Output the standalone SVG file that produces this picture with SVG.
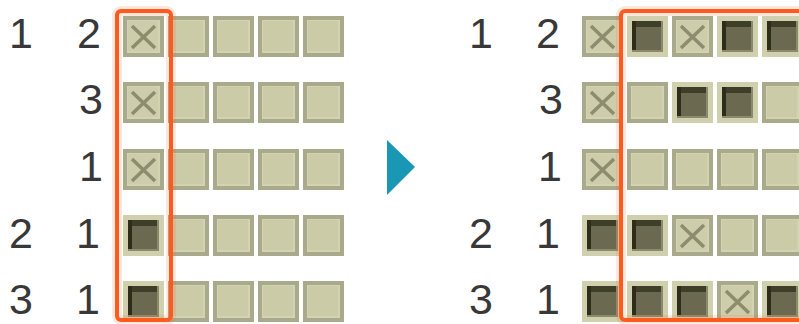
<svg xmlns="http://www.w3.org/2000/svg" xmlns:xlink="http://www.w3.org/1999/xlink" width="799" height="324" viewBox="0 0 799 324">
<style>
.num{font-family:"Liberation Sans","Helvetica",Arial,sans-serif;font-size:43px;fill:#383838;text-anchor:middle}
.frame{fill:none;stroke:#ff5a1e;stroke-width:4}
.glow{fill:none;stroke:#ff5a1e;stroke-opacity:0.14;stroke-width:10}
</style>
<defs>
<g id="E">
<rect width="41" height="41" fill="#a9a98c"/>
<rect x="4" y="4" width="33" height="33" fill="#d3d3b3"/>
<rect x="5" y="5" width="30" height="30" fill="#cbcba8"/>
</g>
<g id="X">
<rect width="41" height="41" fill="#a9a98c"/>
<rect x="4" y="4" width="33" height="33" fill="#d3d3b3"/>
<rect x="5" y="5" width="30" height="30" fill="#cdcdab"/>
<path d="M9 10 L32 32 M32 10 L9 32" stroke="#8d8c6d" stroke-width="3.5" fill="none"/>
</g>
<g id="F">
<rect width="41" height="41" fill="#d0d0ae"/>
<rect x="5" y="5" width="31" height="31" fill="#8a8a6c"/>
<rect x="5" y="5" width="29" height="29" fill="#6b6a50"/>
<rect x="5" y="5" width="29" height="6" fill="#3f3e29"/>
<rect x="5" y="5" width="4" height="29" fill="#2e2d19"/>
</g>
</defs>

<g id="left-clues">
<text class="num" x="21" y="48">1</text>
<text class="num" x="89" y="48">2</text>
<text class="num" x="91" y="114">3</text>
<text class="num" x="91" y="181">1</text>
<text class="num" x="21" y="248">2</text>
<text class="num" x="88" y="248">1</text>
<text class="num" x="21" y="314">3</text>
<text class="num" x="88" y="314">1</text>
</g>

<g id="left-grid">
<use xlink:href="#X" x="123" y="16"/><use xlink:href="#E" x="168" y="16"/><use xlink:href="#E" x="213" y="16"/><use xlink:href="#E" x="258" y="16"/><use xlink:href="#E" x="303" y="16"/>
<use xlink:href="#X" x="123" y="82"/><use xlink:href="#E" x="168" y="82"/><use xlink:href="#E" x="213" y="82"/><use xlink:href="#E" x="258" y="82"/><use xlink:href="#E" x="303" y="82"/>
<use xlink:href="#X" x="123" y="149"/><use xlink:href="#E" x="168" y="149"/><use xlink:href="#E" x="213" y="149"/><use xlink:href="#E" x="258" y="149"/><use xlink:href="#E" x="303" y="149"/>
<use xlink:href="#F" x="123" y="215"/><use xlink:href="#E" x="168" y="215"/><use xlink:href="#E" x="213" y="215"/><use xlink:href="#E" x="258" y="215"/><use xlink:href="#E" x="303" y="215"/>
<use xlink:href="#F" x="123" y="281"/><use xlink:href="#E" x="168" y="281"/><use xlink:href="#E" x="213" y="281"/><use xlink:href="#E" x="258" y="281"/><use xlink:href="#E" x="303" y="281"/>
</g>

<g id="left-frame">
<rect class="glow" x="117" y="11" width="54" height="309" rx="4"/>
<rect class="frame" x="117" y="11" width="54" height="309" rx="4"/>
</g>

<g id="arrow">
<polygon points="387,140 415,167 387,195" fill="#1b97b6"/>
</g>

<g id="right-clues">
<text class="num" x="481" y="48">1</text>
<text class="num" x="548" y="48">2</text>
<text class="num" x="551" y="114">3</text>
<text class="num" x="550" y="181">1</text>
<text class="num" x="481" y="248">2</text>
<text class="num" x="548" y="248">1</text>
<text class="num" x="481" y="314">3</text>
<text class="num" x="548" y="314">1</text>
</g>

<g id="right-grid">
<use xlink:href="#X" x="582" y="16"/><use xlink:href="#F" x="627" y="16"/><use xlink:href="#X" x="672" y="16"/><use xlink:href="#F" x="717" y="16"/><use xlink:href="#F" x="762" y="16"/>
<use xlink:href="#X" x="582" y="82"/><use xlink:href="#E" x="627" y="82"/><use xlink:href="#F" x="672" y="82"/><use xlink:href="#F" x="717" y="82"/><use xlink:href="#E" x="762" y="82"/>
<use xlink:href="#X" x="582" y="149"/><use xlink:href="#E" x="627" y="149"/><use xlink:href="#E" x="672" y="149"/><use xlink:href="#E" x="717" y="149"/><use xlink:href="#E" x="762" y="149"/>
<use xlink:href="#F" x="582" y="215"/><use xlink:href="#F" x="627" y="215"/><use xlink:href="#X" x="672" y="215"/><use xlink:href="#E" x="717" y="215"/><use xlink:href="#E" x="762" y="215"/>
<use xlink:href="#F" x="582" y="281"/><use xlink:href="#F" x="627" y="281"/><use xlink:href="#F" x="672" y="281"/><use xlink:href="#X" x="717" y="281"/><use xlink:href="#F" x="762" y="281"/>
</g>

<g id="right-frame">
<rect class="glow" x="621" y="11" width="200" height="309" rx="4"/>
<rect class="frame" x="621" y="11" width="200" height="309" rx="4"/>
</g>
</svg>
